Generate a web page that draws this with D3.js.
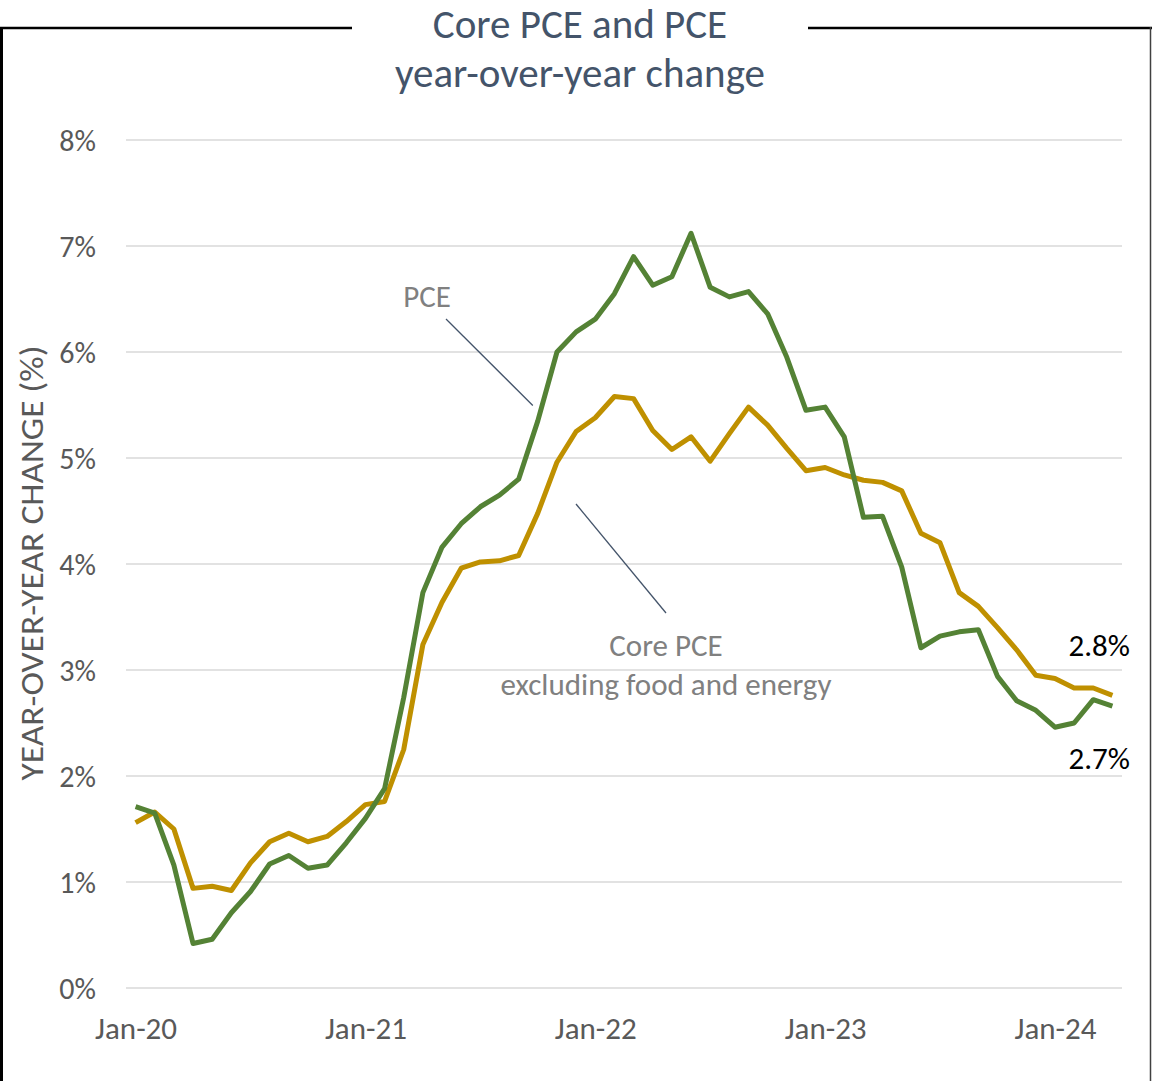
<!DOCTYPE html>
<html>
<head>
<meta charset="utf-8">
<script src="https://cdn.jsdelivr.net/npm/d3@7"></script>
<style>
  html, body { margin: 0; padding: 0; background: #fff; }
  svg { display: block; font-family: Carlito, Lato, "Noto Sans", sans-serif; }
</style>
</head>
<body>
<svg id="chart" width="1152" height="1081"></svg>
<script>
const months = ["Jan-20","Feb-20","Mar-20","Apr-20","May-20","Jun-20","Jul-20","Aug-20","Sep-20","Oct-20","Nov-20","Dec-20",
  "Jan-21","Feb-21","Mar-21","Apr-21","May-21","Jun-21","Jul-21","Aug-21","Sep-21","Oct-21","Nov-21","Dec-21",
  "Jan-22","Feb-22","Mar-22","Apr-22","May-22","Jun-22","Jul-22","Aug-22","Sep-22","Oct-22","Nov-22","Dec-22",
  "Jan-23","Feb-23","Mar-23","Apr-23","May-23","Jun-23","Jul-23","Aug-23","Sep-23","Oct-23","Nov-23","Dec-23",
  "Jan-24","Feb-24","Mar-24","Apr-24"];

const pce = [1.71,1.65,1.16,0.42,0.46,0.71,0.91,1.17,1.25,1.13,1.16,1.37,
  1.60,1.88,2.74,3.73,4.16,4.38,4.54,4.65,4.80,5.35,6.00,6.19,
  6.31,6.55,6.90,6.63,6.71,7.12,6.61,6.52,6.57,6.36,5.95,5.45,
  5.48,5.20,4.44,4.45,3.97,3.21,3.32,3.36,3.38,2.94,2.71,2.62,
  2.46,2.50,2.72,2.66];

const corePce = [1.56,1.66,1.50,0.94,0.96,0.92,1.18,1.38,1.46,1.38,1.43,1.57,
  1.73,1.76,2.25,3.24,3.64,3.96,4.02,4.03,4.08,4.48,4.96,5.25,
  5.38,5.58,5.56,5.26,5.08,5.20,4.97,5.23,5.48,5.31,5.09,4.88,
  4.91,4.84,4.79,4.77,4.69,4.29,4.20,3.73,3.60,3.40,3.19,2.95,
  2.92,2.83,2.83,2.76];

const xTickLabels = ["Jan-20","Jan-21","Jan-22","Jan-23","Jan-24"];
const yTicks = [0,1,2,3,4,5,6,7,8];
const titleLines = ["Core PCE and PCE", "year-over-year change"];
const yAxisTitle = "YEAR-OVER-YEAR CHANGE (%)";
const endLabels = ["2.8%", "2.7%"];
const annotPce = ["PCE"];
const annotCore = ["Core PCE", "excluding food and energy"];

const svg = d3.select("#chart");

// frame
svg.append("line").attr("x1",0).attr("x2",352).attr("y1",28).attr("y2",28).attr("stroke","#000").attr("stroke-width",2.5);
svg.append("line").attr("x1",808).attr("x2",1152).attr("y1",28).attr("y2",28).attr("stroke","#000").attr("stroke-width",2.5);
svg.append("line").attr("x1",1.5).attr("x2",1.5).attr("y1",27).attr("y2",1081).attr("stroke","#000").attr("stroke-width",3);
svg.append("line").attr("x1",1150.5).attr("x2",1150.5).attr("y1",27).attr("y2",1081).attr("stroke","#404040").attr("stroke-width",1.5);

// title
svg.append("g").selectAll("text").data(titleLines).join("text")
  .attr("x", 580).attr("y", (d,i) => 38 + i*49)
  .attr("text-anchor","middle")
  .attr("font-size", 41).attr("fill", "#44546a")
  .text(d => d);

const x = d3.scalePoint().domain(months).range([126, 1122]).padding(0.5);
const y = d3.scaleLinear().domain([0, 8]).range([988, 140]);

// gridlines
svg.append("g").selectAll("line").data(yTicks).join("line")
  .attr("x1", 126).attr("x2", 1122)
  .attr("y1", d => y(d)).attr("y2", d => y(d))
  .attr("stroke", "#d9d9d9").attr("stroke-width", 1.5);

// y axis
const yAxis = d3.axisLeft(y).tickValues(yTicks).tickFormat(d => d + "%").tickSize(0).tickPadding(0);
const gy = svg.append("g").attr("transform", "translate(96,0)").call(yAxis);
gy.select(".domain").remove();
gy.selectAll("text").attr("font-size", 30).attr("fill", "#595959").attr("font-family", "Carlito, Lato, sans-serif").attr("dy", "0.35em");

// x axis
const xAxis = d3.axisBottom(x).tickValues(xTickLabels).tickSize(0).tickPadding(0);
const gx = svg.append("g").attr("transform", "translate(0,1028)").call(xAxis);
gx.select(".domain").remove();
gx.selectAll("text").attr("font-size", 31).attr("fill", "#595959").attr("font-family", "Carlito, Lato, sans-serif").attr("dy", "0.35em");

// y axis title
svg.append("text")
  .attr("transform", "translate(43,563) rotate(-90)")
  .attr("text-anchor", "middle")
  .attr("font-size", 32).attr("fill", "#595959")
  .attr("textLength", 435).attr("lengthAdjust", "spacingAndGlyphs")
  .text(yAxisTitle);

// lines
const line = d3.line().x((d,i) => x(months[i])).y(d => y(d));
svg.append("path").datum(corePce).attr("d", line)
  .attr("fill","none").attr("stroke","#bf9000").attr("stroke-width",5).attr("stroke-linejoin","round");
svg.append("path").datum(pce).attr("d", line)
  .attr("fill","none").attr("stroke","#548235").attr("stroke-width",5).attr("stroke-linejoin","round");

// end labels
const last = months.length - 1;
svg.append("text").attr("x", 1130).attr("y", y(corePce[last]) - 50).attr("text-anchor","end")
  .attr("dy","0.35em").attr("font-size", 31).attr("fill","#000").text(endLabels[0]);
svg.append("text").attr("x", 1130).attr("y", y(pce[last]) + 52).attr("text-anchor","end")
  .attr("dy","0.35em").attr("font-size", 31).attr("fill","#000").text(endLabels[1]);

// annotations
svg.append("text").attr("x", 427).attr("y", 296).attr("text-anchor","middle").attr("dy","0.35em")
  .attr("font-size", 31).attr("fill","#808080").text(annotPce[0]);
svg.append("line").attr("x1", 446).attr("y1", 319).attr("x2", x(months[21]) - 5).attr("y2", y(5.5) + 0.5)
  .attr("stroke","#44546a").attr("stroke-width",1.3);

svg.append("g").selectAll("text").data(annotCore).join("text")
  .attr("x", 666).attr("y", (d,i) => 645 + i*39).attr("text-anchor","middle").attr("dy","0.35em")
  .attr("font-size", 31).attr("fill","#808080").text(d => d);
svg.append("line").attr("x1", 576).attr("y1", 504).attr("x2", 666).attr("y2", 613)
  .attr("stroke","#44546a").attr("stroke-width",1.3);
</script>
</body>
</html>
